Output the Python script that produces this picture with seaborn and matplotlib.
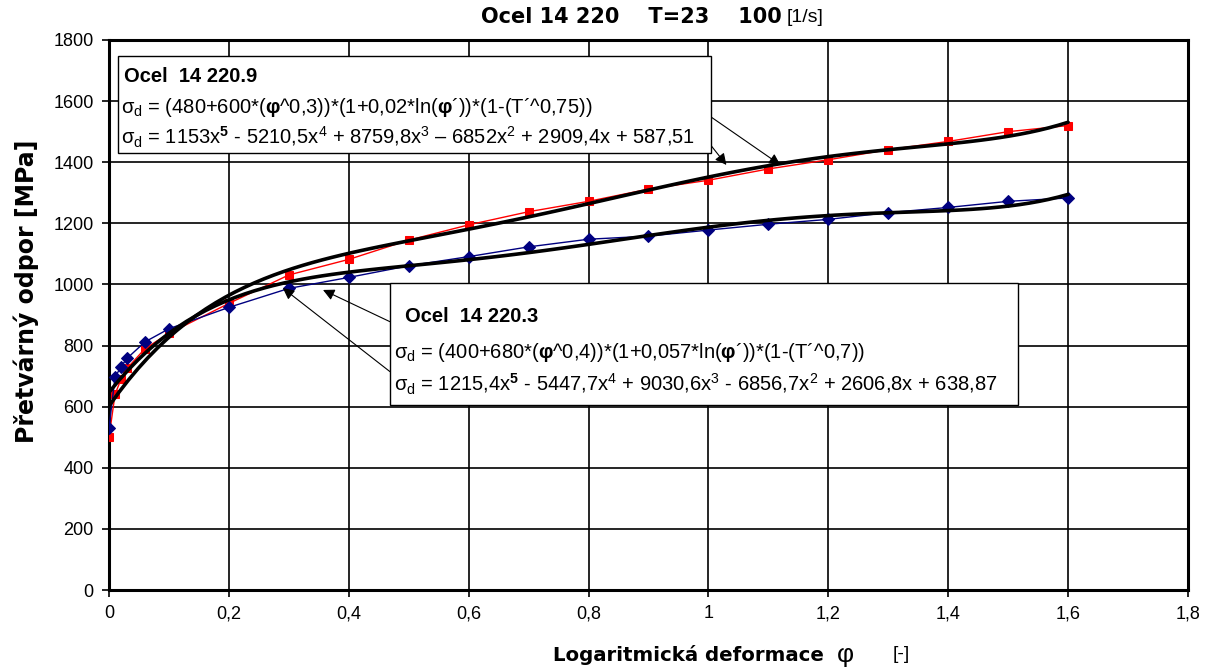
import numpy as np
import pandas as pd
import seaborn as sns
import matplotlib.pyplot as plt
import matplotlib.ticker as ticker
from matplotlib.patches import Rectangle

# values
phi = [0, 0.01, 0.02, 0.03, 0.06, 0.1, 0.2, 0.3, 0.4, 0.5, 0.6, 0.7,
       0.8, 0.9, 1.0, 1.1, 1.2, 1.3, 1.4, 1.5, 1.6]
ocel_9 = [500, 640, 690, 725, 790, 840, 938, 1031, 1082, 1145, 1195, 1238,
          1272, 1312, 1341, 1378, 1408, 1441, 1468, 1500, 1520]
ocel_3 = [530, 696, 731, 758, 812, 855, 925, 987, 1023, 1061, 1091, 1123,
          1148, 1158, 1178, 1197, 1213, 1235, 1252, 1272, 1283]

title_main = "Ocel 14 220    T=23    100"
title_unit = "[1/s]"
ylabel = "Přetvárný odpor [MPa]"
xlabel = "Logaritmická deformace"

box9_title = "Ocel  14 220.9"
box9_f1 = r"σ$_{\rm d}$ = (480+600*($\mathbf{φ}$^0,3))*(1+0,02*ln($\mathbf{φ}$´))*(1-(T´^0,75))"
box9_f2 = (r"σ$_{\rm d}$ = 1153x$^{\mathbf{5}}$ - 5210,5x$^{4}$ + 8759,8x$^{3}$ – 6852x$^{2}$"
           r" + 2909,4x + 587,51")
box3_title = "Ocel  14 220.3"
box3_f1 = r"σ$_{\rm d}$ = (400+680*($\mathbf{φ}$^0,4))*(1+0,057*ln($\mathbf{φ}$´))*(1-(T´^0,7))"
box3_f2 = (r"σ$_{\rm d}$ = 1215,4x$^{\mathbf{5}}$ - 5447,7x$^{4}$ + 9030,6x$^{3}$ - 6856,7x$^{2}$"
           r" + 2606,8x + 638,87")

df = pd.DataFrame({"phi": phi, "o9": ocel_9, "o3": ocel_3})

sns.set_theme(style="ticks")
plt.rcParams['font.family'] = ['Liberation Sans', 'DejaVu Sans']
plt.rcParams['text.color'] = 'black'
plt.rcParams['mathtext.fontset'] = 'custom'
plt.rcParams['mathtext.rm'] = 'Liberation Sans'
plt.rcParams['mathtext.it'] = 'Liberation Sans:italic'
plt.rcParams['mathtext.bf'] = 'Liberation Sans:bold'

fig = plt.figure(figsize=(12.1, 6.72), dpi=100)
ax = fig.add_axes([0.0901, 0.122, 0.8917, 0.8185])

# measured points
sns.lineplot(data=df, x="phi", y="o9", ax=ax, color="red", lw=1, marker="s",
             markersize=6, markeredgecolor="red", zorder=3)
sns.lineplot(data=df, x="phi", y="o3", ax=ax, color="#000080", lw=1, marker="D",
             markersize=6, markeredgecolor="#000080", zorder=3)

# polynomial trendlines (order 5)
sns.regplot(data=df, x="phi", y="o9", ax=ax, order=5, ci=None, scatter=False,
            line_kws=dict(color="black", lw=2.6, zorder=4))
sns.regplot(data=df, x="phi", y="o3", ax=ax, order=5, ci=None, scatter=False,
            line_kws=dict(color="black", lw=2.6, zorder=4))

ax.set_xlim(0, 1.8)
ax.set_ylim(0, 1800)
ax.xaxis.set_major_locator(ticker.MultipleLocator(0.2))
ax.yaxis.set_major_locator(ticker.MultipleLocator(200))
ax.xaxis.set_major_formatter(ticker.FuncFormatter(lambda v, p: f"{round(v, 1):g}".replace(".", ",")))
ax.grid(True, color="black", lw=1.2)
ax.set_axisbelow(True)
for s in ax.spines.values():
    s.set_linewidth(2.2)
    s.set_color("black")
ax.tick_params(direction="out", length=5, width=1.2, color="black",
               labelsize=13, labelcolor="black", pad=6)
ax.set_xlabel("")
ax.set_ylabel("")

# boxes with formulas
fs = 14.5
ax.add_patch(Rectangle((0.0083, 0.7945), 0.5493, 0.1765, transform=ax.transAxes,
                       facecolor="white", edgecolor="black", lw=1, zorder=6))
ax.text(0.0139, 0.9345, box9_title, transform=ax.transAxes, fontsize=fs,
        fontweight="bold", va="center", zorder=7)
ax.text(0.0115, 0.877, box9_f1, transform=ax.transAxes, fontsize=fs, va="center", zorder=7)
ax.text(0.0115, 0.823, box9_f2, transform=ax.transAxes, fontsize=fs, va="center", zorder=7)

ax.add_patch(Rectangle((0.2604, 0.336), 0.5816, 0.222, transform=ax.transAxes,
                       facecolor="white", edgecolor="black", lw=1, zorder=6))
ax.text(0.2743, 0.498, box3_title, transform=ax.transAxes, fontsize=fs,
        fontweight="bold", va="center", zorder=7)
ax.text(0.2640, 0.4327, box3_f1, transform=ax.transAxes, fontsize=fs, va="center", zorder=7)
ax.text(0.2640, 0.374, box3_f2, transform=ax.transAxes, fontsize=fs, va="center", zorder=7)

arrow = dict(arrowstyle="-|>", lw=0.8, color="black", mutation_scale=17, shrinkA=0, shrinkB=0)
for xy, xytext in [((1.12, 1391), (0.5576, 0.8605)), ((1.03, 1391), (0.5576, 0.809)),
                   ((0.357, 982), (0.2604, 0.4878)), ((0.29, 988), (0.2604, 0.397))]:
    ax.annotate("", xy=xy, xycoords="data", xytext=xytext, textcoords="axes fraction",
                arrowprops=arrow, zorder=5)

# titles and labels
fig.text(0.6463, 0.9747, title_main, ha="right", va="center", fontsize=15,
         fontweight="bold", family="DejaVu Sans")
fig.text(0.6505, 0.9747, title_unit, ha="left", va="center", fontsize=14)
fig.text(0.0215, 0.566, ylabel, rotation=90, ha="center", va="center",
         fontsize=17, fontweight="bold", family="DejaVu Sans")
fig.text(0.681, 0.0253, xlabel, ha="right", va="center", fontsize=14.2,
         fontweight="bold", family="DejaVu Sans")
fig.text(0.6985, 0.0253, "φ", ha="center", va="center", fontsize=19)
fig.text(0.738, 0.0253, "[-]", ha="left", va="center", fontsize=14)

fig.savefig("out.png", dpi=100)
